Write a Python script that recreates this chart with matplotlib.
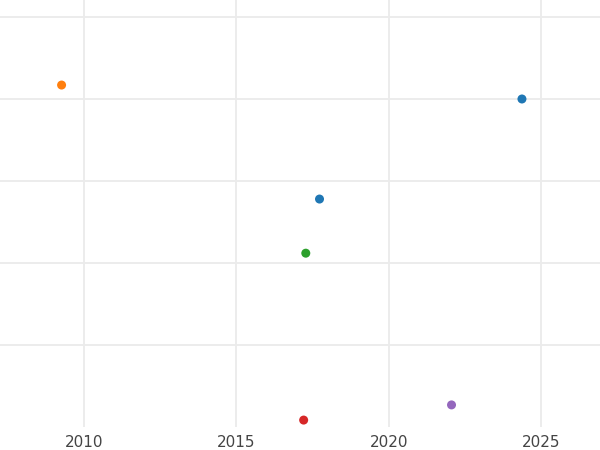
import matplotlib
matplotlib.use("Agg")
import matplotlib.pyplot as plt

# data
years = [2009.27, 2024.37, 2017.73, 2017.28, 2022.06, 2017.21]
values = [4.17, 4.00, 2.78, 2.12, 0.27, 0.085]
colors = ["#ff7f0e", "#1f77b4", "#1f77b4", "#2ca02c", "#9467bd", "#d62728"]
xticks = [2010, 2015, 2020, 2025]
yticks = [1, 2, 3, 4, 5]

fig = plt.figure(figsize=(6, 4.5), dpi=100)
ax = fig.add_axes([0, 0.051, 1, 0.949])

ax.scatter(years, values, c=colors, s=42, zorder=3, linewidths=0)

ax.set_xlim(2007.25, 2026.93)
ax.set_ylim(0, 5.207)
ax.set_xticks(xticks)
ax.set_yticks(yticks)
ax.set_yticklabels([])
ax.grid(True, color="#ebebeb", linewidth=1.3)
ax.set_axisbelow(True)
ax.tick_params(axis="both", length=0, labelsize=11, labelcolor="#444444", pad=6)
for s in ax.spines.values():
    s.set_visible(False)

fig.savefig("out.png", dpi=100)
